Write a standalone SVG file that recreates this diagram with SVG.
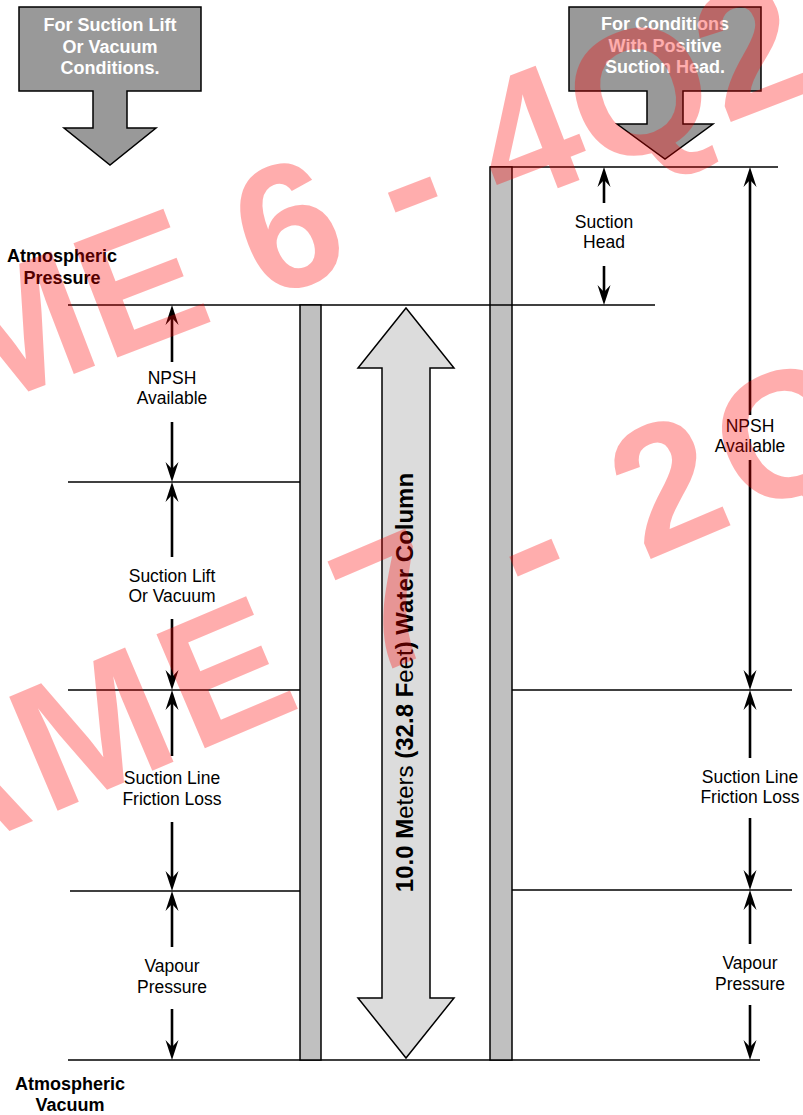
<svg xmlns="http://www.w3.org/2000/svg" width="803" height="1115" viewBox="0 0 803 1115">
<style>
.ln{stroke:#000;stroke-width:1.5;fill:none}
.pipe{fill:#c0c0c0;stroke:#000;stroke-width:1.5}
.dim{stroke:#000;stroke-width:2.6;fill:none;marker-end:url(#ah)}
.lbl{font-family:"Liberation Sans",Arial,sans-serif;font-size:17.5px;fill:#000;text-anchor:middle}
.bl{font-family:"Liberation Sans",Arial,sans-serif;font-size:18px;font-weight:bold;fill:#000;text-anchor:middle}
.wt{font-family:"Liberation Sans",Arial,sans-serif;font-size:18px;font-weight:bold;fill:#fff;text-anchor:middle}
.box{fill:#999;stroke:#000;stroke-width:1.5}
.wm{font-family:"Liberation Sans",Arial,sans-serif;font-weight:bold;fill:#ff0000;fill-opacity:0.32;text-anchor:middle}
</style>
<defs>
<marker id="ah" markerUnits="userSpaceOnUse" viewBox="-22 -8 24 16" markerWidth="24" markerHeight="16" refX="-12" refY="0" orient="auto">
<path d="M0,0 L-20,-6.5 L-13,0 L-20,6.5 Z" fill="#000"/>
</marker>
</defs>
<rect width="803" height="1115" fill="#fff"/>
<g id="levels">
<line class="ln" x1="490" y1="167" x2="778" y2="167"/>
<line class="ln" x1="68" y1="305" x2="655" y2="305"/>
<line class="ln" x1="68" y1="482" x2="300" y2="482"/>
<line class="ln" x1="68" y1="690" x2="300" y2="690"/>
<line class="ln" x1="70" y1="891" x2="300" y2="891"/>
<line class="ln" x1="512" y1="690" x2="792" y2="690"/>
<line class="ln" x1="512" y1="890" x2="792" y2="890"/>
<line class="ln" x1="68" y1="1060" x2="760" y2="1060"/>
</g>
<g id="pipe-left"><rect class="pipe" x="300" y="305" width="21" height="755"/></g>
<g id="pipe-right"><rect class="pipe" x="490" y="167" width="22" height="893"/>
<line class="ln" x1="490" y1="305" x2="512" y2="305"/></g>
<g id="water-column">
<polygon points="406,308 454,368 430,368 430,998 454,998 406,1058 358,998 382,998 382,368 358,368" fill="#dcdcdc" stroke="#000" stroke-width="1.5"/>
<text transform="translate(413,682.5) rotate(-90)" style="font-family:'Liberation Sans',Arial,sans-serif;font-size:24px;font-weight:bold;text-anchor:middle;fill:#000">10.0 M<tspan font-weight="normal">eters</tspan> (32.8 F<tspan font-weight="normal">eet</tspan>) Water Column</text>
</g>
<g id="connectors">
<line class="dim" x1="172" y1="362" x2="172" y2="317"/>
<line class="dim" x1="172" y1="422" x2="172" y2="470"/>
<line class="dim" x1="172" y1="557" x2="172" y2="494"/>
<line class="dim" x1="172" y1="619" x2="172" y2="678"/>
<line class="dim" x1="172" y1="756" x2="172" y2="702"/>
<line class="dim" x1="172" y1="822" x2="172" y2="879"/>
<line class="dim" x1="172" y1="947" x2="172" y2="903"/>
<line class="dim" x1="172" y1="1009" x2="172" y2="1048"/>
<line class="dim" x1="604" y1="203" x2="604" y2="179"/>
<line class="dim" x1="604" y1="266" x2="604" y2="293"/>
<line class="dim" x1="750" y1="415" x2="750" y2="179"/>
<line class="dim" x1="750" y1="460" x2="750" y2="678"/>
<line class="dim" x1="750" y1="758" x2="750" y2="702"/>
<line class="dim" x1="750" y1="818" x2="750" y2="878"/>
<line class="dim" x1="750" y1="944" x2="750" y2="902"/>
<line class="dim" x1="750" y1="1005" x2="750" y2="1048"/>
</g>
<g id="label-atm-pressure"><text class="bl" x="62" y="262">Atmospheric</text><text class="bl" x="62" y="284">Pressure</text></g>
<g id="label-atm-vacuum"><text class="bl" x="70" y="1090">Atmospheric</text><text class="bl" x="70" y="1111">Vacuum</text></g>
<g id="label-npsh-left"><text class="lbl" x="172" y="384">NPSH</text><text class="lbl" x="172" y="404">Available</text></g>
<g id="label-lift"><text class="lbl" x="172" y="582">Suction Lift</text><text class="lbl" x="172" y="602">Or Vacuum</text></g>
<g id="label-friction-left"><text class="lbl" x="172" y="784">Suction Line</text><text class="lbl" x="172" y="805">Friction Loss</text></g>
<g id="label-vapour-left"><text class="lbl" x="172" y="972">Vapour</text><text class="lbl" x="172" y="993">Pressure</text></g>
<g id="label-head"><text class="lbl" x="604" y="228">Suction</text><text class="lbl" x="604" y="248">Head</text></g>
<g id="label-npsh-right"><text class="lbl" x="750" y="432">NPSH</text><text class="lbl" x="750" y="452">Available</text></g>
<g id="label-friction-right"><text class="lbl" x="750" y="783">Suction Line</text><text class="lbl" x="750" y="803">Friction Loss</text></g>
<g id="label-vapour-right"><text class="lbl" x="750" y="969">Vapour</text><text class="lbl" x="750" y="990">Pressure</text></g>
<g id="box-left">
<polygon class="box" points="19,7 201,7 201,91 127,91 127,128 156,128 110,165 64,128 93,128 93,91 19,91"/>
<text class="wt" x="110" y="31">For Suction Lift</text><text class="wt" x="110" y="53">Or Vacuum</text><text class="wt" x="110" y="74">Conditions.</text>
</g>
<g id="box-right">
<polygon class="box" points="569,7 761,7 761,91 683,91 683,124 713,124 665,159 617,124 647,124 647,91 569,91"/>
<text class="wt" x="665" y="30">For Conditions</text><text class="wt" x="665" y="52">With Positive</text><text class="wt" x="665" y="73">Suction Head.</text>
</g>
<g id="watermark">
<text class="wm" transform="translate(310,216) rotate(-21)" y="63" style="font-size:178px">AME 6 - 4Q2</text>
<text class="wm" transform="translate(376,606) rotate(-23)" y="64" style="font-size:180px;letter-spacing:10px">AME 7 - 2Q</text>
</g>
</svg>
